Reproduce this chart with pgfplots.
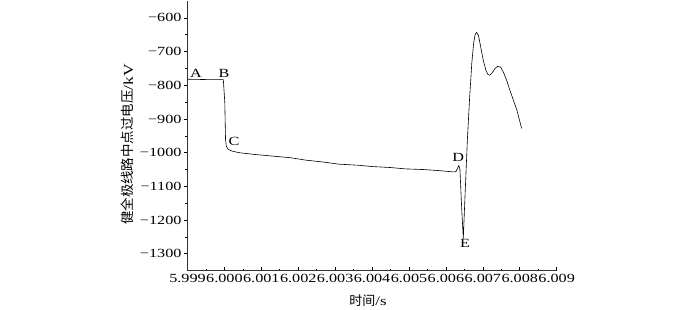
\documentclass[border=0pt]{standalone}
\usepackage{fontspec}
\setmainfont{Liberation Serif}[FakeStretch=1.3]
\newfontfamily\cjk{Noto Sans CJK SC}
\usepackage{pgfplots}
\pgfplotsset{compat=1.18}
\begin{document}
\begin{tikzpicture}
\path[use as bounding box] (-187.5bp,-39.3bp) rectangle (508.5bp,270.7bp);
\begin{axis}[
  at={(0,0)}, anchor=south west,
  scale only axis, width=369.2bp, height=269.7bp,
  xmin=5.999, xmax=6.009, ymin=-1350, ymax=-550,
  axis lines=left, axis line style={-, line width=0.9pt, black!80},
  xtick={5.999,6.000,6.001,6.002,6.003,6.004,6.005,6.006,6.007,6.008,6.009},
  xticklabels={5.999,6.000,6.001,6.002,6.003,6.004,6.005,6.006,6.007,6.008,6.009},
  ytick={-1300,-1200,-1100,-1000,-900,-800,-700,-600},
  yticklabels={−1300,−1200,−1100,−1000,−900,−800,−700,−600},
  minor x tick num=1, minor y tick num=1,
  tick align=inside,
  major tick length=3.5bp, minor tick length=2bp,
  major y tick style={xshift=-3.5bp},
  minor y tick style={xshift=-2bp},
  tick style={line width=0.7pt, black},
  ticklabel style={font=\fontsize{12.5}{14}\selectfont},
  yticklabel style={xshift=-2.5bp},
  xticklabel style={yshift=-1.5bp, inner sep=1.5bp},
  scaled x ticks=false,
  xlabel={\cjk 时间\rmfamily/s},
  ylabel={\cjk 健全极线路中点过电压\rmfamily/kV},
  xlabel style={at={(axis description cs:0.489,-0.112)}, anchor=center, font=\fontsize{13}{15}\selectfont},
  ylabel style={at={(axis description cs:-0.162,0.468)}, anchor=center, font=\fontsize{13.5}{15}\selectfont},
  clip=false,
]
\addplot[black, line width=0.6pt] coordinates {
(5.999,-782) (5.9995,-783) (5.99997,-783) (6.00001,-850) (6.00003,-960) (6.00005,-980)
(6.0001,-990) (6.0002,-995) (6.0004,-1000) (6.0008,-1005) (6.0013,-1010) (6.0018,-1015)
(6.0022,-1022) (6.0027,-1028) (6.0031,-1034) (6.0036,-1037) (6.0040,-1041) (6.0045,-1044)
(6.0049,-1048) (6.0054,-1050) (6.0058,-1053) (6.0062,-1057) (6.00627,-1056) (6.00635,-1038)
(6.00638,-1050) (6.00642,-1150) (6.00647,-1255) (6.00652,-1120) (6.00658,-963) (6.00664,-840)
(6.00670,-735) (6.00675,-675) (6.00679,-650) (6.00683,-643) (6.00688,-652) (6.00694,-685)
(6.00701,-725) (6.00708,-755) (6.00714,-768) (6.00719,-770) (6.00726,-762) (6.00733,-750)
(6.00740,-744) (6.00748,-746) (6.00756,-762) (6.00765,-787) (6.00773,-814) (6.00792,-873)
(6.00805,-928)
};
\node[font=\fontsize{12.5}{14}\selectfont] at (axis cs:5.99923,-764) {A};
\node[font=\fontsize{12.5}{14}\selectfont] at (axis cs:5.99999,-764) {B};
\node[font=\fontsize{12.5}{14}\selectfont] at (axis cs:6.00026,-968) {C};
\node[font=\fontsize{12.5}{14}\selectfont] at (axis cs:6.00633,-1015) {D};
\node[font=\fontsize{12.5}{14}\selectfont] at (axis cs:6.00652,-1270) {E};
\end{axis}
\end{tikzpicture}
\end{document}
